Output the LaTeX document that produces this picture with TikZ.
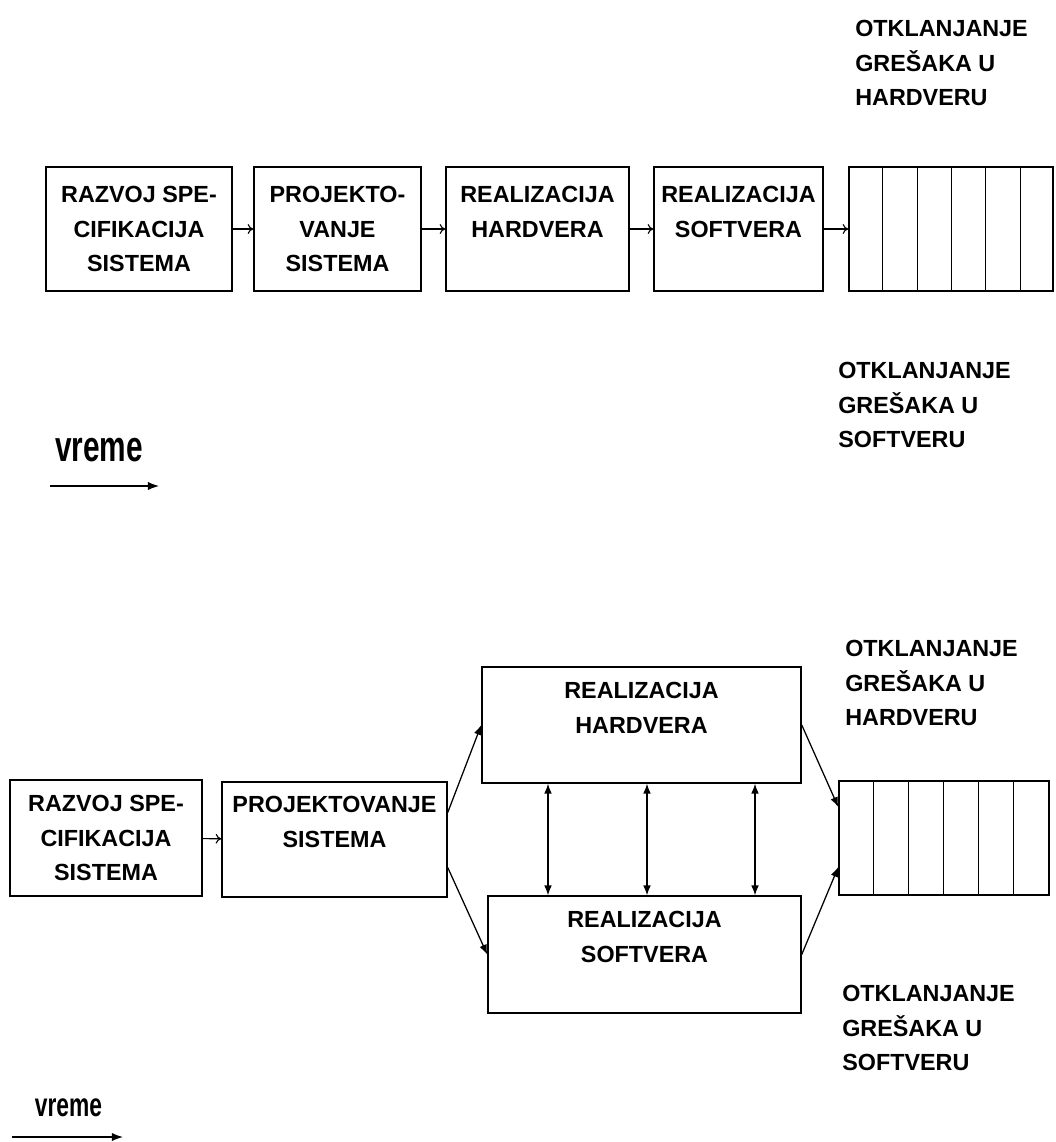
\documentclass[tikz,border=0pt]{standalone}
\usepackage{fontspec}
\setmainfont{Liberation Sans}
\usetikzlibrary{arrows.meta}

\begin{document}
\begin{tikzpicture}[
    x=0.025cm, y=-0.025cm,
    every node/.style={font=\fontsize{16.6}{24.8}\selectfont\bfseries},
    box/.style={
        rectangle, draw, line width=1pt,
        inner sep=0pt, align=center
    },
    lbl/.style={anchor=west, inner sep=0pt, align=left},
    timelbl/.style={inner sep=0pt},
    arr/.style={-{To[length=4pt, width=7pt]}, line width=0.8pt},
    darr/.style={-{Latex[length=7pt, width=5.5pt]}, line width=0.9pt},
    dbl/.style={{Latex[length=7pt, width=5.5pt]}-{Latex[length=7pt, width=5.5pt]}, line width=0.9pt},
    tarr/.style={-{Latex[length=8pt, width=6pt]}, line width=0.9pt},
    stripe/.style={line width=0.8pt}
]
\useasboundingbox (0,0) rectangle (1055,1142);

%% ---- Sequential flow: boxes ----
\node[box, minimum width=4.65cm,  minimum height=3.1cm] (spec1) at (139,229)   {RAZVOJ SPE-\\CIFIKACIJA\\SISTEMA};
\node[box, minimum width=4.175cm, minimum height=3.1cm] (proj1) at (337.5,229) {PROJEKTO-\\VANJE\\SISTEMA};
\node[box, minimum width=4.575cm, minimum height=3.1cm] (hw1)   at (537.5,229) {REALIZACIJA\\HARDVERA\\\vphantom{A}};
\node[box, minimum width=4.225cm, minimum height=3.1cm] (sw1)   at (738.5,229) {REALIZACIJA\\SOFTVERA\\\vphantom{A}};
\node[box, minimum width=5.1cm,   minimum height=3.1cm] (dbg1)  at (951,229)   {};
\foreach \i in {1,...,5}
    \draw[stripe] ([xshift=\i*0.86cm]dbg1.north west) -- ([xshift=\i*0.86cm]dbg1.south west);

%% ---- Sequential flow: arrows ----
\draw[arr] (spec1) -- (proj1);
\draw[arr] (proj1) -- (hw1);
\draw[arr] (hw1)   -- (sw1);
\draw[arr] (sw1)   -- (dbg1);

%% ---- Sequential flow: labels ----
\node[lbl] (fixhw1) at (855,63)  {OTKLANJANJE\\GREŠAKA U\\HARDVERU};
\node[lbl] (fixsw1) at (838,405) {OTKLANJANJE\\GREŠAKA U\\SOFTVERU};

\node[timelbl, font=\fontsize{21.2}{25}\selectfont\bfseries] (time1) at (99,450) {\scalebox{1}[1.45]{vreme}};
\coordinate (t1s) at (50,486);
\coordinate (t1e) at (159,486);
\draw[tarr] (t1s) -- (t1e);

%% ---- Concurrent flow: boxes ----
\node[box, minimum width=4.8cm,   minimum height=2.9cm]   (spec2) at (106,838)    {RAZVOJ SPE-\\CIFIKACIJA\\SISTEMA};
\node[box, minimum width=5.625cm, minimum height=2.875cm] (proj2) at (334.5,839.5) {PROJEKTOVANJE\\SISTEMA\\\vphantom{A}};
\node[box, minimum width=7.975cm, minimum height=2.9cm]   (hw2)   at (641.5,725)  {REALIZACIJA\\HARDVERA\\\vphantom{A}};
\node[box, minimum width=7.825cm, minimum height=2.925cm] (sw2)   at (644.5,954.5) {REALIZACIJA\\SOFTVERA\\\vphantom{A}};
\node[box, minimum width=5.25cm,  minimum height=2.85cm]  (dbg2)  at (944,838)    {};
\foreach \i in {1,...,5}
    \draw[stripe] ([xshift=\i*0.875cm]dbg2.north west) -- ([xshift=\i*0.875cm]dbg2.south west);

%% ---- Concurrent flow: arrows ----
\draw[arr]  (spec2) -- (proj2);
\draw[darr] ([yshift=0.675cm]proj2.east) -- (hw2.west);
\draw[darr] ([yshift=-0.7cm]proj2.east)  -- (sw2.west);
\draw[darr] (hw2.east) -- ([yshift=0.775cm]dbg2.west);
\draw[darr] (sw2.east) -- ([yshift=-0.725cm]dbg2.west);

\coordinate (m1) at (548,840);
\coordinate (m2) at (647,840);
\coordinate (m3) at (755,840);
\foreach \m in {m1,m2,m3}
    \draw[dbl] (hw2.south -| \m) -- (sw2.north -| \m);

%% ---- Concurrent flow: labels ----
\node[lbl] (fixhw2) at (845,683)  {OTKLANJANJE\\GREŠAKA U\\HARDVERU};
\node[lbl] (fixsw2) at (842,1028) {OTKLANJANJE\\GREŠAKA U\\SOFTVERU};

\node[timelbl, font=\fontsize{16.2}{20}\selectfont\bfseries] (time2) at (68.5,1108) {\scalebox{1}[1.45]{vreme}};
\coordinate (t2s) at (12,1137);
\coordinate (t2e) at (123,1137);
\draw[tarr] (t2s) -- (t2e);

\end{tikzpicture}
\end{document}
